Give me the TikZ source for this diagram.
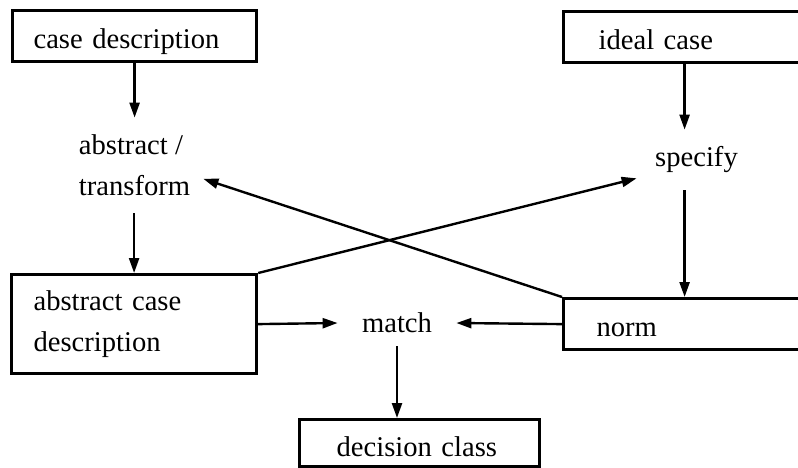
\documentclass[tikz,border=0pt]{standalone}
\usepackage{fontspec}
\setmainfont{Liberation Serif}
\usetikzlibrary{arrows.meta}

\begin{document}
\begin{tikzpicture}[x=0.5pt, y=-0.5pt,
	every node/.style={font=\fontsize{14.3}{20.5}\selectfont},
	>={Triangle[length=7.5pt, width=5pt]},
	box/.style={draw, line width=1.6pt, anchor=north west, align=left, inner ysep=0pt},
	onebox/.style={box, text height=19pt, text depth=6.5pt},
	txt/.style={inner sep=0pt, align=left},
	flow/.style={->, line width=1.2pt}]
	\useasboundingbox (0,0) rectangle (798,467);
	\clip (0,0) rectangle (798,467);
	% boxes
	\node[onebox, inner xsep=10.5pt, text width=101pt] (cd) at (11,9) {case description};
	\node[onebox, inner xsep=17.5pt, text width=86pt] (ideal) at (562,10) {ideal case};
	\node[box, inner xsep=11pt, text width=100.5pt, minimum height=49.5pt] (acd) at (10,273) {abstract case\\description};
	\node[onebox, inner xsep=16.5pt, text width=88pt] (norm) at (562,297) {norm};
	\node[onebox, inner xsep=18.5pt, text width=83pt, text height=18.5pt, text depth=5pt] (dc) at (298,418) {decision class};
	% steps
	\node[txt, minimum width=68.5pt, minimum height=47.5pt] (abst) at (134.5,165.5) {abstract /\\transform};
	\node[txt, minimum width=59.5pt, minimum height=30pt] (spec) at (696.5,160) {specify};
	\node[txt, minimum width=59pt, minimum height=23pt] (match) at (397,323) {match};
	% arrows
	\draw[flow] (cd.south) -- (cd.south |- abst.north);
	\draw[flow] (acd.north |- abst.south) -- (acd.north);
	\draw[flow] (ideal.south) -- (ideal.south |- spec.north);
	\draw[flow] (ideal.south |- spec.south) -- (norm.north);
	\draw[flow] (acd.north east) -- (spec.197);
	\draw[flow] (norm.north west) -- (abst.-11);
	\draw[flow] (acd.east) -- (match.west);
	\draw[flow] (norm.west) -- (match.east);
	\draw[flow] (match.south) -- (match.south |- dc.north);
\end{tikzpicture}
\end{document}
